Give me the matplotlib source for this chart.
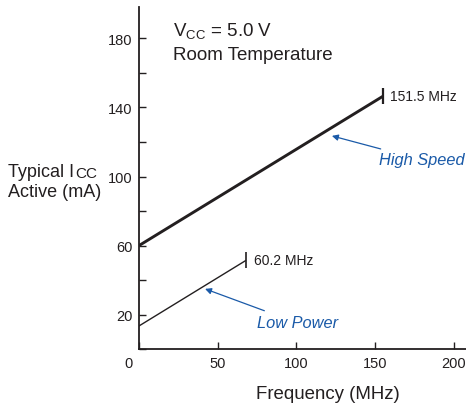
import matplotlib
matplotlib.use("Agg")
import matplotlib.pyplot as plt
from matplotlib.ticker import MultipleLocator
import matplotlib.transforms as mtransforms

plt.rcParams["font.family"] = ["Liberation Sans", "DejaVu Sans"]

# Data
freq_high = [0, 155]
icc_high = [60, 146.5]
freq_low = [0, 68]
icc_low = [13.5, 51.5]

x_ticks = [0, 50, 100, 150, 200]
y_ticks = [20, 60, 100, 140, 180]

ink = "#231f20"
blue = "#1a5aa8"

fig = plt.figure(figsize=(4.66, 4.06), dpi=100)
ax = fig.add_axes([0.298, 0.137, 0.702, 0.843])

# Lines
ax.plot(freq_high, icc_high, color=ink, lw=2.1, solid_capstyle="butt")
ax.plot(freq_low, icc_low, color=ink, lw=1.0, solid_capstyle="butt")

# End markers
ax.plot([freq_high[1]], [icc_high[1]], marker="|", ms=11, mew=1.6, color=ink)
ax.plot([freq_low[1]], [icc_low[1]], marker="|", ms=11, mew=1.2, color=ink)

ax.text(freq_high[1] + 4.5, icc_high[1], "151.5 MHz", fontsize=10, color=ink, va="center", ha="left")
ax.text(freq_low[1] + 5, icc_low[1], "60.2 MHz", fontsize=10, color=ink, va="center", ha="left")

# Callouts
ax.annotate("High Speed", xy=(122.5, 123.5), xytext=(152.4, 109.6), fontsize=11.8, style="italic",
            color=blue, ha="left", va="center",
            arrowprops=dict(arrowstyle="-|>", color=blue, lw=0.9, mutation_scale=9, shrinkA=2, shrinkB=0))
ax.annotate("Low Power", xy=(42, 35), xytext=(74.9, 15.3), fontsize=11.8, style="italic",
            color=blue, ha="left", va="center",
            arrowprops=dict(arrowstyle="-|>", color=blue, lw=0.9, mutation_scale=9, shrinkA=4, shrinkB=0))

ax.text(21.5, 181.2, "V$_{\\mathregular{CC}}$ = 5.0 V", fontsize=13.5, color=ink, ha="left", va="baseline")
ax.text(21.5, 167.8, "Room Temperature", fontsize=13.5, color=ink, ha="left", va="baseline")

# Axes styling
ax.set_xlim(0, 207.6)
ax.set_ylim(0, 198)
ax.set_xticks(x_ticks)
ax.set_yticks(y_ticks)
ax.yaxis.set_minor_locator(MultipleLocator(20))
for s in ["top", "right"]:
    ax.spines[s].set_visible(False)
for s in ["left", "bottom"]:
    ax.spines[s].set_linewidth(1.3)
    ax.spines[s].set_color(ink)
ax.tick_params(which="both", direction="in", length=5, width=1.0, color=ink, labelcolor=ink, labelsize=10.5)
ax.tick_params(axis="x", pad=5)
ax.tick_params(axis="y", pad=4.5)
ax.tick_params(axis="y", which="minor", length=5)

# shift the "0" label a bit to the left like the original
fig.canvas.draw()
offset = mtransforms.ScaledTranslation(-10 / 100, 0, fig.dpi_scale_trans)
lab0 = ax.get_xticklabels()[0]
lab0.set_transform(lab0.get_transform() + offset)

ax.set_xlabel("Frequency (MHz)", fontsize=13.4, color=ink)
ax.xaxis.set_label_coords(0.578, -0.105)

# y axis title, with a larger subscript like the original
t1 = fig.text(0.017, 1 - 177 / 406, "Typical I", fontsize=13, color=ink, ha="left", va="baseline")
fig.text(0.017, 1 - 197 / 406, "Active (mA)", fontsize=13, color=ink, ha="left", va="baseline")
fig.canvas.draw()
bb = t1.get_window_extent()
fig.text(bb.x1 / fig.bbox.width + 0.003, 1 - 178.5 / 406, "CC", fontsize=11, color=ink,
         ha="left", va="baseline")

fig.savefig("out.png", dpi=100)
